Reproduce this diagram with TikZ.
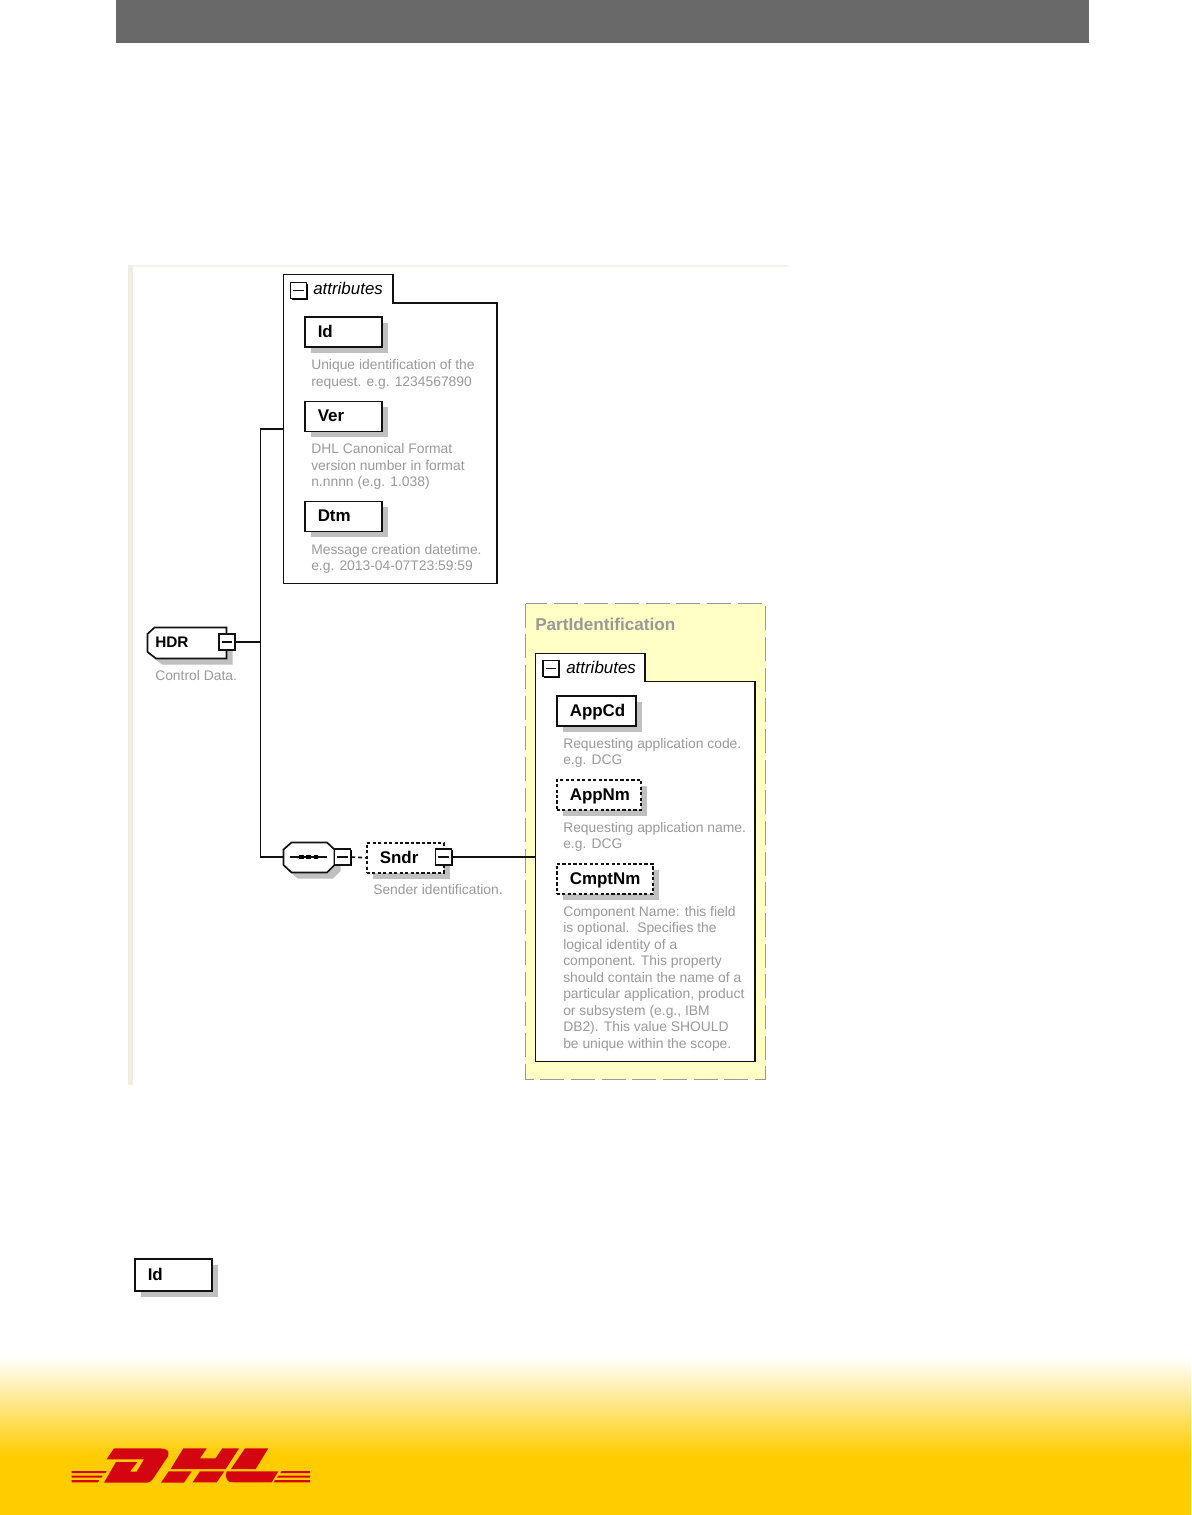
\documentclass[tikz,border=0pt]{standalone}
\usepackage{fontspec}
\setmainfont{Liberation Sans}
\usetikzlibrary{shadows}
\definecolor{hdrgray}{HTML}{696969}
\definecolor{stripcol}{HTML}{F1EEDF}
\definecolor{striplight}{HTML}{F4F2E9}
\definecolor{shadowgray}{HTML}{C0C0C0}
\definecolor{desccol}{HTML}{9A9A9A}
\definecolor{partyellow}{HTML}{FFFFC6}
\definecolor{partgray}{HTML}{999999}
\definecolor{dhlyellow}{HTML}{FFCC00}
\definecolor{dhlred}{HTML}{D40511}
\definecolor{linecol}{HTML}{111111}
\tikzset{
  boxshadow/.style={drop shadow={shadow xshift=4.5pt,shadow yshift=-4.5pt,fill=shadowgray,opacity=1}},
  elbox/.style={draw=linecol,fill=white,line width=1.15pt,boxshadow,anchor=north west,inner xsep=9.75pt,inner ysep=0pt,
    minimum height=22.5pt,text height=9.9pt,text depth=2pt,align=left,font=\fontsize{12.7}{14}\selectfont\bfseries,text=black},
  optbox/.style={elbox,dash pattern=on 2.4pt off 1.7pt},
  minusbox/.style={draw=linecol,fill=white,line width=1.1pt,minimum size=12pt,inner sep=0pt,
    drop shadow={shadow xshift=1.1pt,shadow yshift=-1.1pt,fill=black,opacity=1},
    path picture={\draw[linecol,line width=0.9pt] ([xshift=2pt]path picture bounding box.west) -- ([xshift=-2pt]path picture bounding box.east);}},
  desc/.style={anchor=north west,inner sep=0pt,align=left,text=desccol,font=\fontsize{10.4}{12.375}\selectfont},
  attrtext/.style={anchor=west,inner sep=0pt,font=\fontsize{12.7}{14}\selectfont\itshape,text=black},
  conn/.style={draw=linecol,line width=1.2pt},
  tabbox/.style={draw=linecol,fill=white,line width=1.25pt,line join=miter},
  chamfer/.style={draw=linecol,fill=white,line width=1.25pt,boxshadow},
  logored/.style={fill=dhlred,draw=none}
}
\begin{document}
\begin{tikzpicture}[x=0.75pt,y=-0.75pt]
\useasboundingbox (0,0) rectangle (1191,1515);
\fill[white] (0,0) rectangle (1191,1515);
% header and footer
\fill[hdrgray] (116,0) rectangle (1089,43);
\shade[top color=white,bottom color=dhlyellow,draw=none] (0,1357) rectangle (1191,1456);
\fill[dhlyellow] (0,1455.5) rectangle (1191,1515);
% panel edge
\fill[striplight] (128,265.2) rectangle (789,266.6);
\fill[stripcol] (128,265.2) rectangle (132.5,1085);
% yellow part-identification block
\draw[fill=partyellow,draw=partgray,line width=1.2pt,dash pattern=on 18pt off 5pt] (525.5,603.5) rectangle (765.5,1079.5);
\node[anchor=west,inner sep=0pt,text=partgray,font=\fontsize{12.85}{15}\selectfont\bfseries] (parttitle) at (535,624) {PartIdentification};
% attributes boxes
\draw[tabbox] (283.5,274.5) -- (393,274.5) -- (393,303) -- (497,303) -- (497,583.5) -- (283.5,583.5) -- cycle;
\coordinate (attrOneW) at (283.5,429);
\draw[tabbox] (535.5,653.5) -- (645,653.5) -- (645,681.5) -- (755,681.5) -- (755,1061.5) -- (535.5,1061.5) -- cycle;
\coordinate (attrTwoW) at (535.5,857);
\node[minusbox] (minusA) at (298.5,290.5) {};
\node[attrtext] (attrA) at (313,288.5) {attributes};
\node[minusbox] (minusB) at (551,668.5) {};
\node[attrtext] (attrB) at (566,667.5) {attributes};
% elements of first block
\node[elbox,text width=38.25pt] (idA) at (304,316.5) {Id};
\node[desc] (idAd) at (311,359.3) {Unique identification of the\\request. e.g. 1234567890};
\node[elbox,text width=38.25pt] (ver) at (304,400.5) {Ver};
\node[desc] (verd) at (311,443.3) {DHL Canonical Format\\version number in format\\n.nnnn (e.g. 1.038)};
\node[elbox,text width=38.25pt] (dtm) at (304,500.5) {Dtm};
\node[desc] (dtmd) at (311,544) {Message creation datetime.\\e.g. 2013-04-07T23:59:59};
% elements of second block
\node[elbox,text width=39.75pt] (appcd) at (556,695) {AppCd};
\node[desc] (appcdd) at (563,738) {Requesting application code.\\e.g. DCG};
\node[optbox,text width=43.5pt] (appnm) at (556,779) {AppNm};
\node[desc] (appnmd) at (563,822) {Requesting application name.\\e.g. DCG};
\node[optbox,text width=52.5pt] (cmptnm) at (556,863) {CmptNm};
\node[desc] (cmptnmd) at (563,906) {Component Name: this field\\is optional.\ \ Specifies the\\logical identity of a\\component. This property\\should contain the name of a\\particular application, product\\or subsystem (e.g., IBM\\DB2). This value SHOULD\\be unique within the scope.};
% root element
\draw[chamfer] (154.5,627.5) -- (226.5,627.5) -- (226.5,658.5) -- (156,658.5) -- (147.5,652) -- (147.5,634) -- cycle;
\node[anchor=west,inner sep=0pt,font=\fontsize{11.5}{14}\selectfont\bfseries] (hdrt) at (155,642) {HDR};
\node[minusbox] (hdrm) at (227,642) {};
\node[desc] (hdrd) at (155,670.3) {Control Data.};
% sequence compositor
\draw[chamfer] (291.5,842.5) -- (327,842.5) -- (334.5,849.5) -- (334.5,865) -- (327,872.5) -- (291.5,872.5) -- (283.5,865) -- (283.5,849.5) -- cycle;
\coordinate (seqW) at (283.5,857);
\coordinate (seqL) at (290,857);
\coordinate (seqR) at (327,857);
\draw[conn] (seqL) -- (seqR);
\foreach \n/\dx in {a/301.5,b/308.5,c/316}{\node[fill=black,rectangle,inner sep=0pt,minimum size=3.6pt] (dot\n) at (\dx,857) {};}
\node[minusbox] (seqm) at (342.5,857) {};
% Sndr
\node[optbox,text width=38.25pt] (sndr) at (366,842) {Sndr};
\node[minusbox] (sndrm) at (443.5,857) {};
\node[desc] (sndrd) at (373,884.3) {Sender identification.};
% connectors
\coordinate (trunkTop) at (260.5,429);
\coordinate (trunkBot) at (260.5,857);
\coordinate (trunkHdr) at (260.5,642);
\draw[conn] (attrOneW) -- (trunkTop) -- (trunkBot) -- (seqW);
\draw[conn] (hdrm.east) -- (trunkHdr);
\draw[conn,dash pattern=on 3pt off 2.2pt] (seqm.east) -- (sndr.west);
\draw[conn] (sndrm.east) -- (attrTwoW);
% bottom legend box
\node[elbox,text width=38.25pt,minimum height=24pt] (idB) at (134,1258) {Id};
% logo
\begin{scope}[shift={(190,1440)},x=0.25pt,y=-0.25pt]
\fill[logored] (-228,25) -- (-95,25) .. controls (-60,25) and (-58,40) .. (-72,58) -- (-112,118) .. controls (-118,126) and (-124,128) .. (-135,128)
  -- (-258,128) -- (-222,66) -- (-158,66) -- (-180,95) -- (-160,95) -- (-138,58) -- (-250,58) -- cycle;
\fill[logored] (-20,25) -- (50,25) -- (30,55) -- (77,55) -- (97,25) -- (147,25) -- (107,87) -- (-58,87) -- cycle;
\fill[logored] (-87,128) -- (-18,128) -- (5,94) -- (-64,94) -- cycle;
\fill[logored] (8,127) -- (80,127) -- (103,94) -- (30,94) -- cycle;
\fill[logored] (165,25) -- (235,25) -- (197,87) -- (123,87) -- cycle;
\fill[logored] (110,94) -- (265,94) -- (245,127) -- (130,127) .. controls (112,127) and (104,118) .. (110,94) -- cycle;
\foreach \ya/\yb/\xa/\xb in {93/99/-355/-250,107/113/-355/-262,120/127/-355/-272}{\fill[logored] (\xa,\ya) -- (\xb,\ya) -- (\xb-4,\yb) -- (\xa,\yb) -- cycle;}
\foreach \ya/\yb/\xa/\xb in {93/99/275/360,107/113/265/360,120/127/255/360}{\fill[logored] (\xa,\ya) -- (\xb,\ya) -- (\xb,\yb) -- (\xa-4,\yb) -- cycle;}
\end{scope}
\end{tikzpicture}
\end{document}
